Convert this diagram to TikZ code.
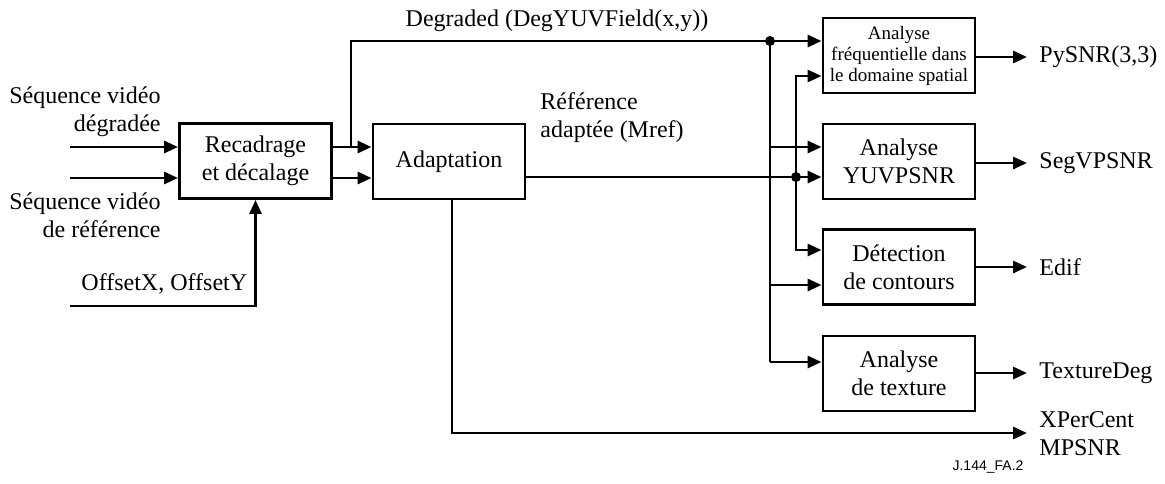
\documentclass[tikz,border=0pt]{standalone}
\usepackage{fontspec}
\setmainfont{Liberation Serif}
\newfontfamily\labelsans{Liberation Sans}
\usetikzlibrary{arrows.meta}
\begin{document}
\begin{tikzpicture}[x=0.5pt,y=-0.5pt,
  line width=1.45pt,
  every node/.style={font=\fontsize{12}{14}\selectfont},
  blk/.style={draw, line width=1.45pt, minimum width=76pt, minimum height=37.5pt, align=center, inner sep=0pt},
  arr/.style={-{Triangle[length=7pt,width=6pt]}},
  dot/.style={circle, fill=black, inner sep=0pt, minimum size=5pt},
  lbl/.style={align=left, anchor=west, inner sep=0pt},
  lblr/.style={align=right, anchor=east, inner sep=0pt}]
\useasboundingbox (0,0) rectangle (1165,483);

% blocks
\node[blk] (rec) at (255.5,161) {Recadrage\\et décalage};
\node[blk] (ada) at (449,161.5) {Adaptation};
\node[blk, font=\fontsize{9.5}{10.5}\selectfont] (frq) at (899,55.5) {Analyse\\fréquentielle dans\\le domaine spatial};
\node[blk] (yuv) at (899,161.5) {Analyse\\YUVPSNR};
\node[blk] (det) at (899,267) {Détection\\de contours};
\node[blk] (tex) at (899,373.5) {Analyse\\de texture};

% input labels
\node[lblr] (sdeg) at (162,112) {Séquence vidéo\\dégradée};
\node[lblr] (sref) at (162,215) {Séquence vidéo\\de référence};
\node[lbl] (offl) at (80,284) {OffsetX, OffsetY};
\node[anchor=base] (degl) at (557,26) {Degraded (DegYUVField(x,y))};
\node[lbl] (mrefl) at (539,118) {Référence\\adaptée (Mref)};

% output labels
\node[lbl] (o1) at (1038,57) {PySNR(3,3)};
\node[lbl] (o2) at (1038,163) {SegVPSNR};
\node[lbl] (o3) at (1038,267) {Edif};
\node[lbl] (o4) at (1038,373) {TextureDeg};
\node[lbl] (o5) at (1038,434) {XPerCent\\MPSNR};
\node[font=\labelsans\fontsize{7}{8}\selectfont] (fig) at (988,467) {J.144\_FA.2};

% inputs
\coordinate (in1) at (70,147);
\coordinate (in2) at (70,178);
\coordinate (off) at (70,306);
\draw[arr] (in1) -- (in1 -| rec.west);
\draw[arr] (in2) -- (in2 -| rec.west);
\draw[arr] (off) -| (rec.south);

% recadrage -> adaptation
\draw[arr] (rec.east |- in1) -- (ada.west |- in1);
\draw[arr] (rec.east |- in2) -- (ada.west |- in2);

% degraded bus
\coordinate (b1) at (351,147);
\coordinate (j1) at (770,41);
\draw[arr] (b1) |- (j1) -- (j1 -| frq.west);
\node[dot] at (j1) {};
\coordinate (j1b) at (770,362);
\draw (j1) -- (j1b);
\draw[arr] (j1b) -- (j1b -| tex.west);
\coordinate (j1y) at (770,147);
\draw[arr] (j1y) -- (j1y -| yuv.west);
\coordinate (j1d) at (770,285);
\draw[arr] (j1d) -- (j1d -| det.west);

% reference bus
\coordinate (m0) at (ada.east |- 0,177);
\coordinate (j2) at (796,177);
\draw[arr] (m0) -- (j2) -- (j2 -| yuv.west);
\node[dot] at (j2) {};
\coordinate (j2t) at (796,76);
\coordinate (j2b) at (796,250);
\draw[arr] (j2) -- (j2t) -- (j2t -| frq.west);
\draw[arr] (j2) -- (j2b) -- (j2b -| det.west);

% outputs
\draw[arr] (frq.east |- o1) -- (1027,57);
\draw[arr] (yuv.east |- o2) -- (1027,163);
\draw[arr] (det.east |- o3) -- (1027,267);
\draw[arr] (tex.east |- o4) -- (1027,373);
\coordinate (a0) at (452,199);
\coordinate (a1) at (452,433);
\draw[arr] (ada.south -| a0) -- (a1) -- (1027,433);
\end{tikzpicture}
\end{document}
